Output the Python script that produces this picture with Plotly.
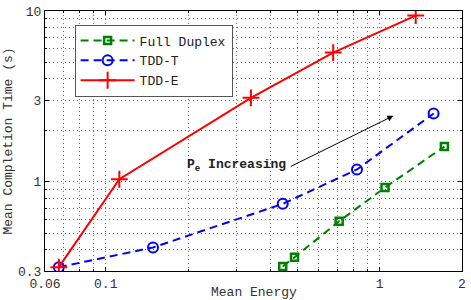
import math
import plotly.graph_objects as go

# Data
fd_energy = [0.443, 0.489, 0.712, 1.047, 1.725]
fd_time = [0.319, 0.361, 0.587, 0.925, 1.607]

tddt_energy = [0.0674, 0.1488, 0.443, 0.827, 1.575]
tddt_time = [0.316, 0.412, 0.742, 1.180, 2.51]

tdde_energy = [0.0674, 0.1121, 0.339, 0.677, 1.355]
tdde_time = [0.316, 1.034, 3.10, 5.71, 9.40]

x_ticks = [0.06, 0.1, 1, 2]
x_ticklabels = ["0.06", "0.1", "1", "2"]
y_ticks = [0.3, 1, 3, 10]
y_ticklabels = ["0.3", "1", "3", "10"]

x_minor = [0.07, 0.08, 0.09, 0.2, 0.3, 0.4, 0.5, 0.6, 0.7, 0.8, 0.9]
y_minor = [0.4, 0.5, 0.6, 0.7, 0.8, 0.9, 2, 4, 5, 6, 7, 8, 9]

arrow_tail = (0.468, 1.217)
arrow_head = (1.123, 2.433)

FONT = "Liberation Mono, Courier New, monospace"
GRID = "rgb(110,110,110)"

fig = go.Figure()
fig.add_trace(go.Scatter(
    x=fd_energy, y=fd_time, name="Full Duplex", mode="lines+markers",
    line=dict(color="rgb(0,128,0)", width=2, dash="8px,5px"),
    marker=dict(symbol="square-open", size=7, color="rgb(0,128,0)",
                line=dict(width=2.5, color="rgb(0,128,0)")),
))
fig.add_trace(go.Scatter(
    x=tddt_energy, y=tddt_time, name="TDD-T", mode="lines+markers",
    line=dict(color="rgb(0,0,255)", width=2, dash="8px,5px"),
    marker=dict(symbol="circle-open", size=10, color="rgb(0,0,255)",
                line=dict(width=2, color="rgb(0,0,255)")),
))
fig.add_trace(go.Scatter(
    x=tdde_energy, y=tdde_time, name="TDD-E", mode="lines+markers",
    line=dict(color="rgb(255,0,0)", width=2),
    marker=dict(symbol="cross-thin", size=12, color="rgb(255,0,0)",
                line=dict(width=2, color="rgb(255,0,0)")),
))

axis_common = dict(
    type="log",
    showline=True, linecolor="black", linewidth=1, mirror="ticks",
    ticks="inside", ticklen=4, tickcolor="black",
    showgrid=True, gridcolor=GRID, griddash="1px,3px", gridwidth=1,
    zeroline=False, ticklabeloverflow="allow",
    tickfont=dict(family=FONT, size=13, color="#333"),
    title_font=dict(family=FONT, size=13, color="#333"),
)

fig.update_xaxes(
    **axis_common,
    range=[math.log10(0.06), math.log10(2)],
    tickvals=x_ticks, ticktext=x_ticklabels,
    minor=dict(tickvals=x_minor, ticks="inside", ticklen=2, tickcolor="black",
               showgrid=True, gridcolor=GRID, griddash="1px,3px", gridwidth=1),
)
fig.update_yaxes(
    **axis_common,
    range=[math.log10(0.3), math.log10(10)],
    tickvals=y_ticks, ticktext=y_ticklabels,
    minor=dict(tickvals=y_minor, ticks="inside", ticklen=2, tickcolor="black",
               showgrid=True, gridcolor=GRID, griddash="1px,3px", gridwidth=1),
    title_text="Mean Completion Time (s)", title_standoff=2,
)

fig.add_annotation(
    x=0.5, y=-0.083, xref="paper", yref="paper",
    xanchor="center", yanchor="middle", showarrow=False,
    text="Mean Energy", font=dict(family=FONT, size=13, color="#333"),
)

fig.add_annotation(
    x=math.log10(arrow_head[0]), y=math.log10(arrow_head[1]),
    ax=math.log10(arrow_tail[0]), ay=math.log10(arrow_tail[1]),
    xref="x", yref="y", axref="x", ayref="y",
    text="", showarrow=True, arrowhead=2, arrowsize=1.2, arrowwidth=1,
    arrowcolor="black",
)
fig.add_annotation(
    x=math.log10(arrow_tail[0]), y=math.log10(arrow_tail[1]),
    xref="x", yref="y", xanchor="right", yanchor="middle",
    text="<b>P<sub>e</sub> Increasing</b>", showarrow=False,
    font=dict(family=FONT, size=13, color="#222"), xshift=-1, yshift=2,
)

fig.update_layout(
    width=471, height=300,
    margin=dict(l=45, r=5, t=6, b=29),
    paper_bgcolor="white", plot_bgcolor="white",
    showlegend=True,
    legend=dict(
        x=0.071, y=0.948, xanchor="left", yanchor="top",
        bgcolor="white", bordercolor="#555", borderwidth=1,
        font=dict(family=FONT, size=13, color="#222"),
        tracegroupgap=0, itemwidth=54,
    ),
    font=dict(family=FONT, size=13),
)

fig.write_html("out.html", config={"displayModeBar": False},
               post_script="document.body.style.margin='0px';")
